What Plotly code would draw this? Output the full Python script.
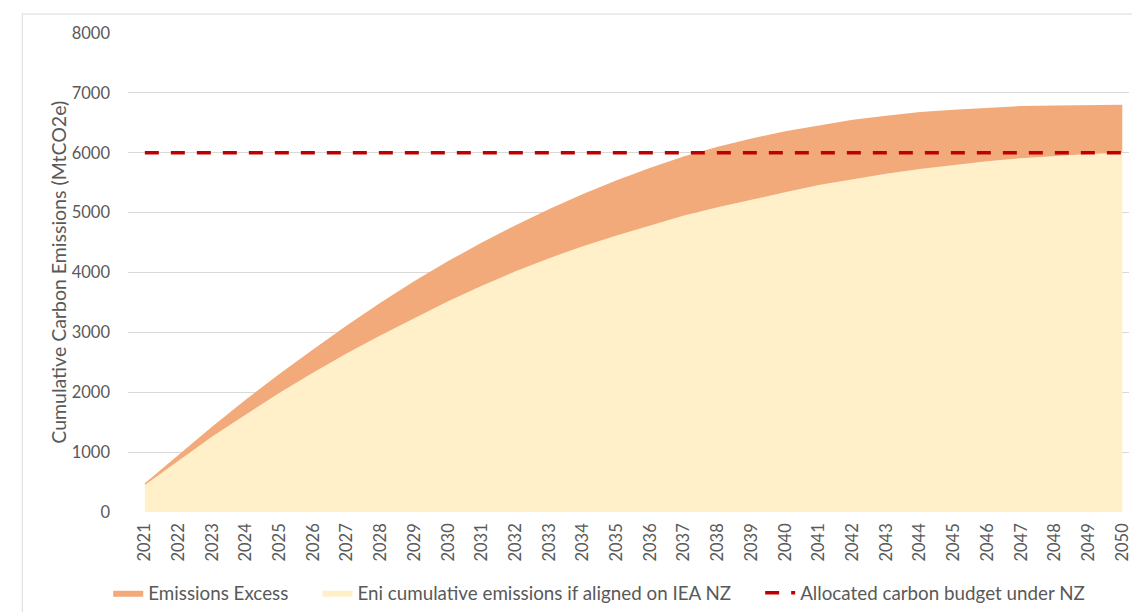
import plotly.graph_objects as go

years = [str(y) for y in range(2021, 2051)]
eni_aligned = [450, 860, 1260, 1630, 1990, 2330, 2650, 2950, 3240, 3520,
               3780, 4020, 4240, 4440, 4620, 4790, 4950, 5090, 5220, 5340,
               5460, 5560, 5650, 5730, 5800, 5860, 5910, 5950, 5980, 6000]
emissions_excess = [30, 100, 170, 250, 320, 390, 470, 550, 620, 670,
                    720, 770, 820, 870, 920, 960, 990, 1010, 1020, 1020,
                    1000, 990, 970, 950, 920, 890, 870, 840, 820, 800]
budget = [6000] * len(years)
y_ticks = [0, 1000, 2000, 3000, 4000, 5000, 6000, 7000, 8000]

FONT = "Lato"
GREY = "#595959"
PAD = "\u00a0" * 5

fig = go.Figure()
fig.add_trace(go.Scatter(
    x=years, y=eni_aligned, name="Eni cumulative emissions if aligned on IEA NZ" + PAD,
    stackgroup="one", mode="lines", line=dict(width=0, color="#FFF0C9"),
    fillcolor="#FFF0C9", legendrank=2))
fig.add_trace(go.Scatter(
    x=years, y=emissions_excess, name="Emissions Excess" + PAD,
    stackgroup="one", mode="lines", line=dict(width=0, color="#F3AA7A"),
    fillcolor="#F3AA7A", legendrank=1))
fig.add_trace(go.Scatter(
    x=years, y=budget, name="Allocated carbon budget under NZ",
    mode="lines", line=dict(color="#C00000", width=3.5, dash="14px,12px"),
    legendrank=3))

fig.update_layout(
    width=1132, height=612,
    margin=dict(l=128, r=0, t=33, b=100),
    paper_bgcolor="white", plot_bgcolor="white",
    font=dict(family=FONT, color=GREY, size=16),
    showlegend=True,
    legend=dict(orientation="h", xref="container", yref="container",
                x=0.0956, xanchor="left", y=0.031, yanchor="middle",
                traceorder="normal", itemwidth=30,
                font=dict(size=18.8, color=GREY, family=FONT),
                bgcolor="rgba(0,0,0,0)"),
    xaxis=dict(type="category", range=[-0.5, 29.2], tickangle=-90,
               showgrid=False, showline=False, ticks="",
               tickfont=dict(size=16.5, color=GREY, family=FONT),
               ticklabelstandoff=7),
    yaxis=dict(range=[0, 8000], tickvals=y_ticks, showgrid=True,
               gridcolor="#D9D9D9", gridwidth=1, zeroline=False,
               showline=False, ticks="",
               tickfont=dict(size=16.5, color=GREY, family=FONT),
               ticklabelstandoff=17),
    shapes=[dict(type="rect", xref="paper", yref="paper",
                 x0=-0.1056, x1=1.05, y0=-0.25, y1=1.0397,
                 line=dict(color="#D9D9D9", width=1), fillcolor="rgba(0,0,0,0)",
                 layer="below")],
    annotations=[dict(text="Cumulative Carbon Emissions (MtCO2e)",
                      xref="paper", yref="paper", x=-0.0697, y=0.5,
                      xanchor="center", yanchor="middle", textangle=-90,
                      showarrow=False, font=dict(size=19.5, color=GREY, family=FONT))],
)

fig.write_html("out.html")
